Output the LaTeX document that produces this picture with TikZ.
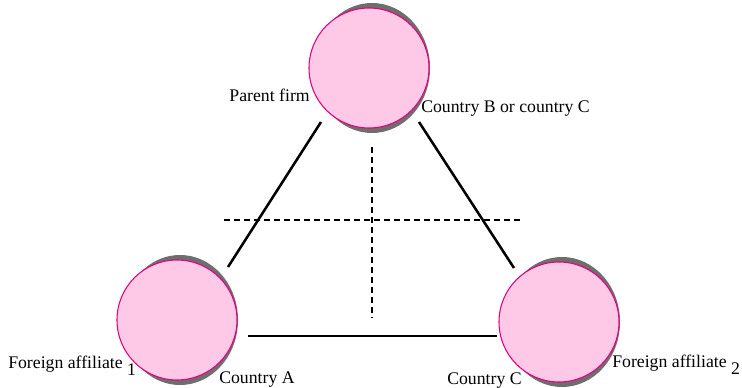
\documentclass[tikz,border=0pt]{standalone}
\usepackage{fontspec}
\setmainfont{Liberation Serif}
\usetikzlibrary{calc}
\definecolor{firmpink}{RGB}{253,201,230}
\definecolor{firmedge}{RGB}{228,0,124}
\definecolor{shadowgrey}{RGB}{110,110,110}

\begin{document}
\begin{tikzpicture}[x=0.75pt,y=-0.75pt,
	firm/.style={circle,draw=firmedge,line width=0.8pt,fill=firmpink,minimum size=90pt,inner sep=0pt},
	link/.style={line width=1.9pt},
	split/.style={line width=1.3pt,dash pattern=on 4.5pt off 3pt},
	lab/.style={font=\fontsize{13.3}{15}\selectfont,inner sep=0pt}]
			\useasboundingbox (0,0) rectangle (742,388);
			
			\foreach \n/\x/\y in {parent/369/68, affA/177/320, affC/559/322}{
				\fill[shadowgrey] (\x+3,\y) ellipse (58 and 65);
				\node[firm] (\n) at (\x,\y) {};
			}
			
			\coordinate (pA) at (321,122); \coordinate (aP) at (228,267);
			\coordinate (pC) at (419,122); \coordinate (cP) at (514,268);
			\coordinate (aC) at (248,336); \coordinate (cA) at (497,336);
			\coordinate (hL) at (224,220); \coordinate (hR) at (522,220);
			\coordinate (vT) at (372,147); \coordinate (vB) at (372,318);
			
			\draw[link] (pA) -- (aP);
			\draw[link] (pC) -- (cP);
			\draw[link] (aC) -- (cA);
			
			\draw[split] (hL) -- (hR);
			\draw[split] (vT) -- (vB);
			
			\node[lab,anchor=base east] (pfirm) at (310,102) {Parent firm};
			\node[lab,anchor=base west] (cbc) at (421,113) {Country B or country C};
			\node[lab,anchor=base west] (fa1) at (8,368) {Foreign affiliate \raisebox{-0.45em}{1}};
			\node[lab,anchor=base west] (ca) at (219,383) {Country A};
			\node[lab,anchor=base west] (cc) at (447,384) {Country C};
			\node[lab,anchor=base west] (fa2) at (612,367) {Foreign affiliate \raisebox{-0.45em}{2}};
			
		\end{tikzpicture}
\end{document}
